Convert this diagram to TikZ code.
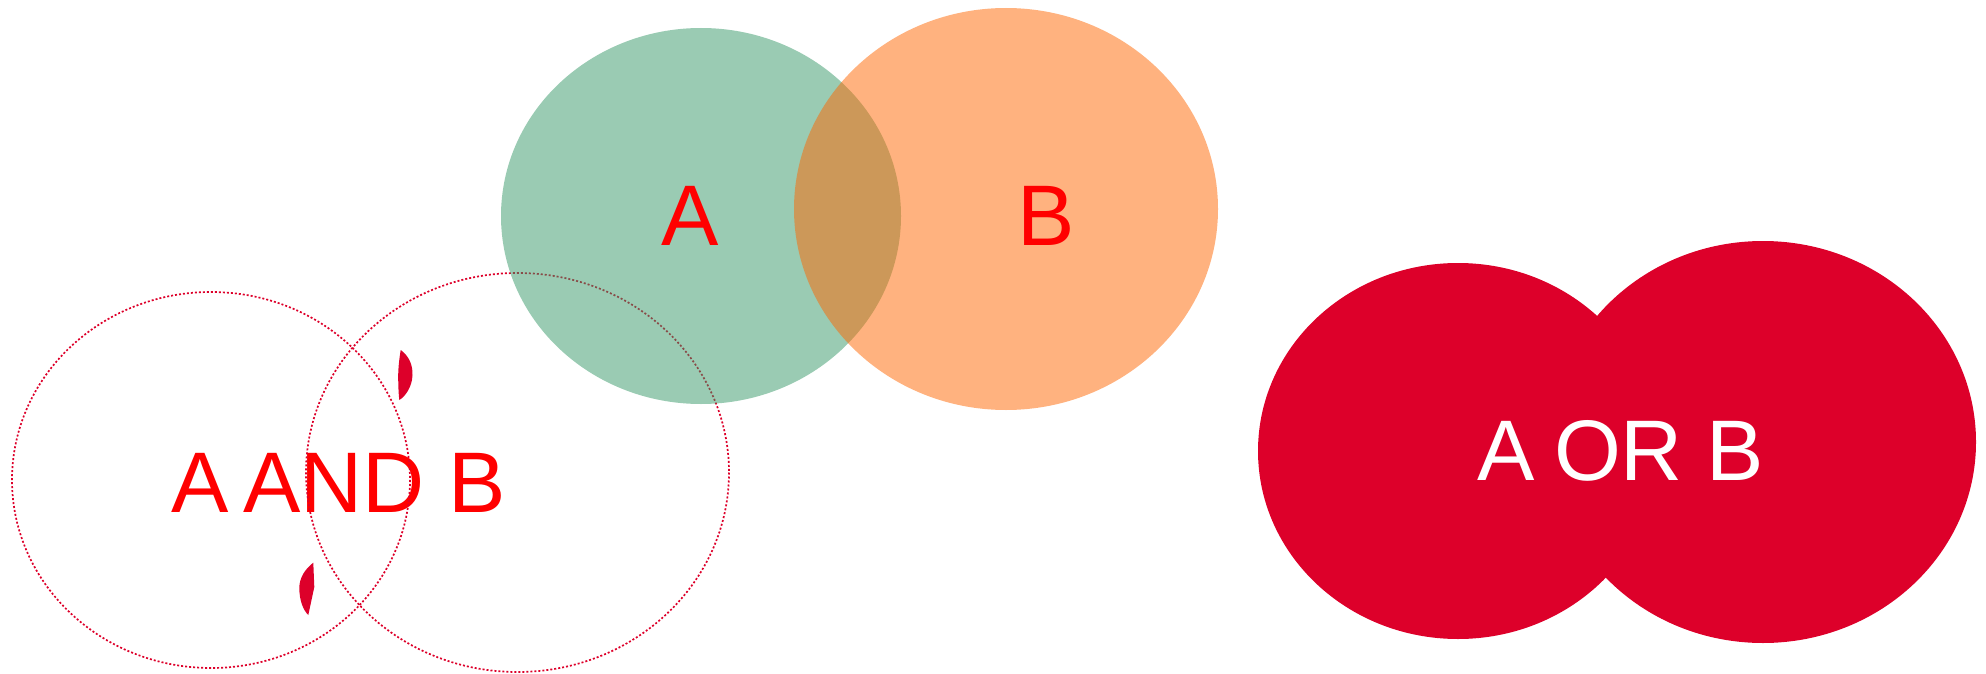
\documentclass[tikz,border=0pt]{standalone}
\usepackage{fontspec}
\setmainfont{Liberation Sans}
\definecolor{vgreen}{RGB}{53,151,103}
\definecolor{vorange}{RGB}{255,102,0}
\definecolor{vcrimson}{RGB}{221,0,42}
\definecolor{vtext}{RGB}{255,0,0}
\tikzset{
  setlabel/.style={inner sep=0pt, anchor=base, font=\fontsize{43}{50}\selectfont},
  dottedset/.style={draw=vcrimson, line width=0.85pt, dash pattern=on 1pt off 1pt},
  softfill/.style={fill opacity=0.5}
}
\begin{document}
\begin{tikzpicture}[x=0.5pt,y=-0.5pt]
\useasboundingbox (0,0) rectangle (1986,674);
% AND diagram
\node[setlabel, text=vtext] (andlabel) at (339,512) {A\hspace{0.1675em}AND B};
\draw[dottedset] (211,480) ellipse [x radius=199, y radius=188];
\draw[dottedset] (517.5,472.5) ellipse [x radius=211.5, y radius=199.5];
\fill[vcrimson] (400.7,350) .. controls (409,356) and (412.8,365) .. (412.5,375)
  .. controls (412.2,386) and (406,396) .. (399.3,400)
  .. controls (398.4,392) and (398.2,383) .. (398.2,375)
  .. controls (398.3,367) and (399.4,358) .. (400.7,350) -- cycle;
\fill[vcrimson] (313.3,562.7) .. controls (305,569) and (299.3,578) .. (299.3,588)
  .. controls (299.4,600) and (303,610) .. (308.3,615)
  -- (314.3,587) -- cycle;
% Venn A, B
\fill[vgreen, softfill] (701,216) ellipse [x radius=200, y radius=188];
\fill[vorange, softfill] (1006,209) ellipse [x radius=212, y radius=201];
\node[setlabel, text=vtext] (alabel) at (690,245) {A};
\node[setlabel, text=vtext] (blabel) at (1046,245) {B};
% OR diagram
\fill[vcrimson] (1458,451) ellipse [x radius=200, y radius=188];
\fill[vcrimson] (1763,442) ellipse [x radius=213, y radius=201];
\node[setlabel, text=white] (orlabel) at (1621,480) {A\hspace{0.2227em}OR B};
\end{tikzpicture}
\end{document}
